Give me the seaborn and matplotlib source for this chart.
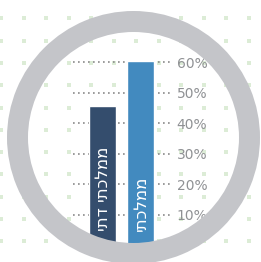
import numpy as np
import pandas as pd
import matplotlib
matplotlib.use("Agg")
import matplotlib.pyplot as plt
import seaborn as sns
from matplotlib.patches import Wedge

# Data
categories = ["ממלכתי דתי", "ממלכתי"]
values = [45.6, 60.4]
bar_colors = ["#344d6d", "#428abf"]
tick_values = [10, 20, 30, 40, 50, 60]
tick_labels = ["10%", "20%", "30%", "40%", "50%", "60%"]

W, H, DPI = 261, 262, 100

sns.set_style("white")
plt.rcParams["font.family"] = ["DejaVu Sans"]

fig = plt.figure(figsize=(W / DPI, H / DPI), dpi=DPI)
fig.patch.set_facecolor("white")

# Background: faint green dotted texture
bg = fig.add_axes([0, 0, 1, 1])
bg.set_xlim(0, W)
bg.set_ylim(H, 0)
bg.axis("off")
gx, gy = np.meshgrid(np.arange(1, W + 10, 22.5), np.arange(-4, H + 10, 22.3))
bg.scatter(gx.ravel(), gy.ravel(), marker="s", s=12, color="#dcecd6", linewidths=0)

# Bar chart axes (pixel box: x 73..171, y 0% at 245)
px_per_unit = 183 / 60
ax_left, ax_right, ax_bottom = 73, 171, 245
ymax = 63
ax = fig.add_axes([ax_left / W, (H - ax_bottom) / H,
                   (ax_right - ax_left) / W, ymax * px_per_unit / H])
ax.patch.set_alpha(0)

df = pd.DataFrame({"category": categories, "value": values})
sns.barplot(data=df, x="category", y="value", hue="category",
            palette=bar_colors, width=0.71, legend=False, ax=ax, zorder=2,
            saturation=1)

unit = 38
ax.set_xlim(-(102.5 - ax_left) / unit, 1 + (ax_right - 140.5) / unit)
ax.set_ylim(0, ymax)
ax.set_yticks(tick_values)
ax.set_yticklabels(tick_labels)
ax.yaxis.tick_right()
ax.tick_params(axis="y", length=0, pad=4, labelsize=10, labelcolor="#8f9194")
ax.set_xticks([])
ax.set_xlabel("")
ax.set_ylabel("")
for s in ax.spines.values():
    s.set_visible(False)
ax.grid(axis="y", color="#8a8a8a", linestyle=(0, (1, 2)), linewidth=1.2, zorder=0)
ax.set_axisbelow(True)

# Vertical labels inside the bars (Hebrew reversed for LTR rendering)
for i, cat in enumerate(categories):
    ax.text(i + 0.02, 4.5, cat[::-1], rotation=90, ha="center", va="bottom",
            color="white", fontsize=12, zorder=4)

# Gray ring on top
ring = Wedge((133.5 / DPI, (H - 137.5) / DPI), 126.5 / DPI, 0, 360,
             width=21 / DPI, transform=fig.dpi_scale_trans,
             facecolor="#c4c5c9", edgecolor="none", zorder=5)
fig.patches.append(ring)
ring.set_figure(fig)

fig.savefig("out.png", dpi=DPI)
